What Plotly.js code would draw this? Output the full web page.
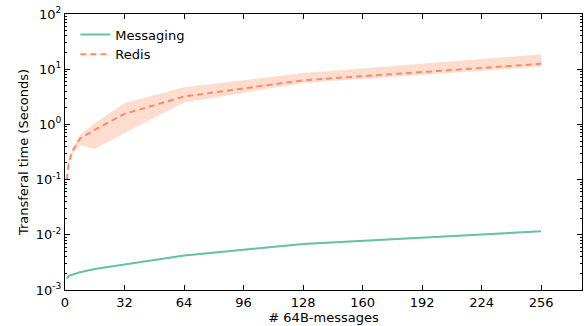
<!DOCTYPE html>
<html><head><meta charset="utf-8">
<script src="https://cdn.plot.ly/plotly-3.0.1.min.js"></script>
<style>html,body{margin:0;padding:0;background:#fff}#chart{width:586px;height:326px}</style>
</head><body><div id="chart"></div>
<script>
const xs = [1, 2, 4, 8, 16, 32, 64, 128, 256];
const messaging = [0.0016, 0.0018, 0.0019, 0.0021, 0.0024, 0.0029, 0.0042, 0.0068, 0.0116];
const messagingLow = [0.00155, 0.00175, 0.00185, 0.00205, 0.00235, 0.00285, 0.0041, 0.0066, 0.0113];
const messagingHigh = [0.00165, 0.00185, 0.00195, 0.00215, 0.00245, 0.00295, 0.0043, 0.0070, 0.0119];
const redis = [0.1, 0.2, 0.33, 0.55, 0.8, 1.55, 3.2, 6.3, 12.5];
const redisLow = [0.1, 0.19, 0.3, 0.42, 0.36, 0.7, 2.5, 5.6, 11.2];
const redisHigh = [0.1, 0.21, 0.36, 0.65, 1.05, 2.45, 4.7, 8.5, 18.6];
const xTicks = [0, 32, 64, 96, 128, 160, 192, 224, 256];
const yTicks = [0.001, 0.01, 0.1, 1, 10, 100];
const yTickText = ['10<sup>-3</sup>', '10<sup>-2</sup>', '10<sup>-1</sup>', '10<sup>0</sup>', '10<sup>1</sup>', '10<sup>2</sup>'];

const minorVals = [];
for (let e = -3; e < 2; e++) for (let m = 2; m <= 9; m++) minorVals.push(m * Math.pow(10, e));

const green = '#66c2a5', orange = '#fc8d62';
const traces = [
  {x: xs, y: messaging, mode: 'lines', name: 'Messaging', line: {color: green, width: 2}},
  {x: xs, y: redis, mode: 'lines', name: 'Redis', line: {color: orange, width: 2, dash: '6px,4px'}},
  {x: xs, y: redisLow, mode: 'lines', line: {width: 0}, showlegend: false, hoverinfo: 'skip'},
  {x: xs, y: redisHigh, mode: 'lines', line: {width: 0}, fill: 'tonexty', fillcolor: 'rgba(252,141,98,0.3)', showlegend: false, hoverinfo: 'skip'},
  {x: xs, y: messagingLow, mode: 'lines', line: {width: 0}, showlegend: false, hoverinfo: 'skip'},
  {x: xs, y: messagingHigh, mode: 'lines', line: {width: 0}, fill: 'tonexty', fillcolor: 'rgba(102,194,165,0.3)', showlegend: false, hoverinfo: 'skip'}
];
const font = {family: 'DejaVu Sans', size: 13, color: '#000'};
const layout = {
  width: 586, height: 326,
  margin: {l: 65, r: 4, t: 14, b: 36},
  paper_bgcolor: '#fff', plot_bgcolor: '#fff',
  font: font,
  showlegend: true,
  legend: {x: 0.02, y: 0.98, xanchor: 'left', yanchor: 'top', traceorder: 'normal', bgcolor: 'rgba(0,0,0,0)', font: {family: 'DejaVu Sans', size: 13}, tracegroupgap: 0},
  xaxis: {
    range: [0, 278], tickvals: xTicks, ticktext: xTicks.map(String),
    ticks: 'inside', ticklen: 5, tickcolor: '#000', showline: true, linecolor: '#000', linewidth: 1,
    mirror: 'allticks', showgrid: false, zeroline: false,
    tickfont: font,
    title: {text: '# 64B-messages', font: font, standoff: 4}
  },
  yaxis: {
    type: 'log', range: [-3, 2], tickvals: yTicks, ticktext: yTickText,
    ticks: 'inside', ticklen: 5, tickcolor: '#000', showline: true, linecolor: '#000', linewidth: 1,
    mirror: 'allticks', showgrid: false, zeroline: false,
    minor: {tickvals: minorVals, ticks: 'inside', ticklen: 2, tickcolor: '#000', showgrid: false},
    tickfont: font,
    title: {text: 'Transferal time (Seconds)', font: font, standoff: 4}
  }
};
Plotly.newPlot('chart', traces, layout, {displayModeBar: false, staticPlot: true});
</script></body></html>
